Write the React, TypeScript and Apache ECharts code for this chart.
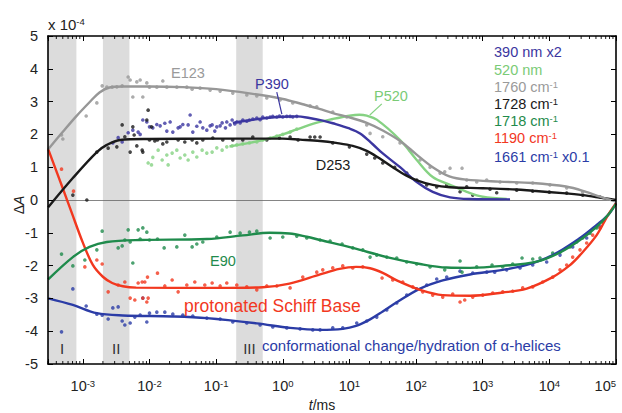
import React, { useEffect, useRef } from 'react';
import * as echarts from 'echarts';

// time axis range (ms)
const X_MIN = 3e-4;
const X_MAX = 1e5;
const Y_MIN = -5;
const Y_MAX = 5;
const xTickExponents = [-3, -2, -1, 0, 1, 2, 3, 4, 5];
const minorMultipliers = [2, 3, 4, 5, 6, 7, 8, 9];
const minorDecades = [-4, -3, -2, -1, 0, 1, 2, 3, 4];

// shaded time windows [start, end] in ms
const bandNames = ['I', 'II', 'III'];
const bandFrom = [3e-4, 2e-3, 0.2];
const bandTo = [8e-4, 5e-3, 0.5];

// All series: [log10(t/ms), ΔA / 1e-4]
const grayDots = [
  [-3.32, 1.98], [-3.3, 1.86], [-2.95, 2.56], [-2.79, 2.96], [-2.71, 3.48], [-2.64, 3.44], [-2.56, 3.44],
  [-2.49, 3.45], [-2.41, 3.48], [-2.32, 3.75], [-2.29, 3.66], [-2.25, 3.14], [-2.19, 3.6], [-2.14, 3.66],
  [-2.1, 3.14], [-2.04, 3.57], [-2.0, 3.44], [-1.89, 3.44], [-1.8, 3.63], [-1.74, 3.44], [-1.59, 3.44],
  [-1.44, 3.44], [-1.36, 3.38], [-1.24, 3.41], [-1.09, 3.35], [-0.94, 3.32], [-0.75, 3.26], [-0.54, 3.2],
  [-0.39, 3.17], [-0.24, 3.11], [-0.04, 3.05], [0.15, 2.96], [0.41, 2.87], [0.51, 2.84], [0.75, 2.68],
  [0.96, 2.53], [1.26, 2.29], [1.31, 2.03], [1.5, 1.93], [1.76, 1.74], [1.91, 1.52], [2.06, 1.22],
  [2.21, 1.0], [2.36, 0.82], [2.43, 0.86], [2.51, 0.97], [2.69, 0.97], [2.76, 0.61], [2.91, 0.55],
  [3.06, 0.61], [3.26, 0.55], [3.51, 0.52], [3.75, 0.52], [4.01, 0.46], [4.26, 0.37], [4.5, 0.24], [4.76, 0.09],
];
const grayLine = [
  [-3.52, 1.55], [-3.3, 2.08], [-3.1, 2.55], [-2.9, 2.98], [-2.75, 3.28], [-2.6, 3.43], [-2.4, 3.46], [-2.0, 3.46],
  [-1.5, 3.44], [-1.0, 3.38], [-0.5, 3.25], [0, 3.08], [0.3, 2.92], [0.55, 2.78], [0.75, 2.65], [1.0, 2.52],
  [1.26, 2.35], [1.5, 2.12], [1.76, 1.8], [2.0, 1.4], [2.25, 1.0], [2.5, 0.72], [2.75, 0.62], [3.25, 0.56],
  [3.75, 0.52], [4.25, 0.41], [4.55, 0.25], [4.76, 0.1], [5, -0.05],
];

const blackDots = [
  [-3.15, 0.15], [-2.94, 0.0], [-2.79, 1.46], [-2.62, 1.58], [-2.49, 1.62], [-2.41, 2.29], [-2.37, 1.93],
  [-2.29, 1.46], [-2.25, 2.23], [-2.23, 1.98], [-2.19, 1.65], [-2.11, 1.52], [-2.1, 1.46], [-2.04, 2.44],
  [-2.02, 2.74], [-2.0, 1.83], [-1.97, 2.23], [-1.92, 1.8], [-1.88, 1.83], [-1.8, 1.71], [-1.74, 1.77],
  [-1.57, 1.83], [-1.47, 1.77], [-1.36, 1.83], [-1.29, 1.74], [-1.2, 1.83], [-1.05, 1.89], [-0.9, 1.83],
  [-0.75, 1.83], [-0.6, 1.83], [-0.45, 1.92], [-0.24, 1.83], [-0.05, 1.89], [0.11, 1.92], [0.23, 1.83],
  [0.41, 1.92], [0.48, 1.92], [0.56, 1.92], [0.75, 1.74], [1.0, 1.62], [1.26, 1.4], [1.38, 1.28], [1.5, 1.13],
  [1.68, 1.0], [1.86, 0.82], [2.01, 0.61], [2.16, 0.46], [2.31, 0.4], [2.46, 0.46], [2.66, 0.25], [2.76, 0.4],
  [2.85, 0.15], [3.11, 0.33], [3.21, 0.22], [3.51, 0.3], [3.75, 0.27], [4.0, 0.24], [4.26, 0.21], [4.5, 0.15], [4.76, 0.09],
];
const blackLine = [
  [-3.52, -0.22], [-3.15, 0.67], [-2.79, 1.46], [-2.64, 1.68], [-2.44, 1.83], [-2.0, 1.86], [-1.0, 1.87],
  [0, 1.87], [0.26, 1.84], [0.56, 1.8], [0.8, 1.74], [1.05, 1.65], [1.26, 1.5], [1.45, 1.27], [1.65, 1.0],
  [1.85, 0.75], [2.01, 0.6], [2.25, 0.46], [2.51, 0.39], [3.0, 0.36], [3.5, 0.32], [3.75, 0.28], [4.2, 0.21],
  [4.5, 0.15], [4.8, 0.06], [5, 0],
];

const p390Dots = [
  [-2.55, 1.74], [-2.47, 1.9], [-2.41, 1.77], [-2.32, 2.05], [-2.25, 2.13], [-2.17, 2.07], [-2.14, 2.0],
  [-2.1, 2.44], [-2.04, 2.38], [-2.0, 2.23], [-1.95, 2.2], [-1.89, 2.3], [-1.84, 2.26], [-1.77, 2.34],
  [-1.74, 2.1], [-1.69, 2.38], [-1.65, 2.07], [-1.57, 2.2], [-1.54, 2.23], [-1.5, 2.3], [-1.42, 2.29],
  [-1.39, 2.59], [-1.35, 2.07], [-1.29, 2.25], [-1.24, 2.38], [-1.2, 2.2], [-1.14, 2.13], [-1.09, 2.26],
  [-1.06, 2.29], [-1.02, 2.1], [-0.99, 2.23], [-0.94, 2.26], [-0.91, 2.35], [-0.86, 2.2], [-0.84, 2.38],
  [-0.79, 2.29], [-0.76, 2.44], [-0.72, 2.32], [-0.69, 2.38], [-0.64, 2.35], [-0.6, 2.44], [-0.54, 2.4],
  [-0.5, 2.44], [-0.45, 2.47], [-0.39, 2.5], [-0.34, 2.45], [-0.3, 2.53], [-0.24, 2.5], [-0.19, 2.53],
  [-0.15, 2.55], [-0.09, 2.53], [-0.05, 2.56], [0.0, 2.53], [0.06, 2.55], [0.11, 2.55], [0.15, 2.53], [0.21, 2.55],
];
const p390Line = [
  [-0.75, 2.35], [-0.5, 2.43], [-0.25, 2.5], [0.0, 2.54], [0.21, 2.55], [0.4, 2.5], [0.6, 2.42], [0.75, 2.34],
  [1.0, 2.18], [1.16, 2.03], [1.35, 1.7], [1.5, 1.42], [1.76, 1.0], [2.01, 0.55], [2.25, 0.25], [2.51, 0.08],
  [2.8, 0.03], [3.41, 0.02],
];

const p520Dots = [
  [-2.02, 1.13], [-1.97, 1.07], [-1.95, 1.3], [-1.87, 1.52], [-1.81, 1.22], [-1.74, 1.37], [-1.72, 1.07],
  [-1.66, 1.43], [-1.59, 1.52], [-1.54, 1.28], [-1.47, 1.37], [-1.42, 1.22], [-1.35, 1.46], [-1.29, 1.31],
  [-1.21, 1.52], [-1.14, 1.43], [-1.06, 1.46], [-0.99, 1.59], [-0.91, 1.52], [-0.84, 1.62], [-0.76, 1.65],
  [-0.69, 1.68], [-0.6, 1.71], [-0.5, 1.74], [-0.39, 1.77], [-0.3, 1.83], [-0.19, 1.89], [-0.09, 1.95],
  [0.0, 2.0], [0.11, 2.07], [0.21, 2.16],
];
const p520Line = [
  [-0.8, 1.63], [-0.5, 1.74], [-0.2, 1.88], [0.0, 2.0], [0.21, 2.15], [0.5, 2.35], [0.75, 2.47], [1.0, 2.57],
  [1.15, 2.6], [1.26, 2.57], [1.41, 2.45], [1.76, 1.83], [2.01, 1.22], [2.25, 0.7], [2.51, 0.46], [2.76, 0.25],
  [3.0, 0.1], [3.36, 0.03],
];

const e90Dots = [
  [-3.32, -1.65], [-3.15, -2.01], [-2.97, -1.83], [-2.79, -1.52], [-2.71, -0.95], [-2.47, -1.46], [-2.41, -1.4],
  [-2.37, -1.22], [-2.32, -0.91], [-2.29, -1.28], [-2.25, -1.92], [-2.17, -0.91], [-2.14, -1.19], [-2.1, -0.85],
  [-2.04, -0.98], [-2.0, -1.22], [-1.88, -1.19], [-1.78, -1.46], [-1.59, -1.43], [-1.47, -1.07], [-1.36, -1.43],
  [-1.29, -1.34], [-1.2, -1.28], [-0.99, -1.13], [-0.79, -0.98], [-0.64, -1.01], [-0.5, -0.98], [-0.39, -0.95],
  [-0.19, -1.16], [0.0, -1.13], [0.21, -1.1], [0.36, -1.16], [0.56, -1.22], [0.71, -1.25], [0.89, -1.34],
  [1.05, -1.46], [1.2, -1.52], [1.31, -1.74], [1.41, -1.68], [1.56, -1.74], [1.71, -1.77], [1.86, -1.89],
  [2.01, -1.95], [2.21, -2.04], [2.43, -2.13], [2.66, -1.86], [2.69, -2.2], [2.91, -2.04], [3.14, -1.98],
  [3.3, -2.04], [3.45, -1.95], [3.59, -1.77], [3.75, -1.8], [3.86, -1.77], [4.05, -1.62], [4.16, -1.59],
  [4.31, -1.43], [4.41, -1.28], [4.5, -1.16], [4.61, -1.01], [4.71, -0.85], [4.8, -0.67],
];
const e90Line = [
  [-3.52, -2.42], [-3.15, -1.74], [-2.9, -1.43], [-2.64, -1.28], [-2.14, -1.22], [-1.14, -1.19], [-0.6, -1.08],
  [-0.2, -1.0], [0.1, -1.02], [0.36, -1.12], [0.56, -1.22], [1.05, -1.46], [1.56, -1.74], [2.06, -1.95],
  [2.46, -2.06], [2.81, -2.07], [3.3, -2.01], [3.81, -1.88], [4.16, -1.6], [4.46, -1.22], [4.71, -0.82],
  [4.88, -0.46], [5, -0.12],
];

const redDots = [
  [-3.32, 0.94], [-3.14, 0.27], [-2.97, -2.04], [-2.79, -1.83], [-2.71, -1.95], [-2.62, -2.8], [-2.47, -2.59],
  [-2.37, -2.5], [-2.29, -2.99], [-2.22, -3.05], [-2.17, -2.53], [-2.11, -2.5], [-2.1, -2.99], [-2.07, -2.5],
  [-2.04, -3.11], [-2.03, -2.35], [-2.02, -2.99], [-1.88, -2.23], [-1.77, -2.62], [-1.66, -2.44], [-1.57, -2.8],
  [-1.44, -2.59], [-1.32, -2.5], [-1.17, -2.59], [-1.06, -2.53], [-0.94, -2.62], [-0.84, -2.53], [-0.69, -2.59],
  [-0.54, -2.65], [-0.39, -2.74], [-0.24, -2.62], [-0.09, -2.62], [0.11, -2.68], [0.3, -2.35], [0.51, -2.2],
  [0.6, -2.13], [0.75, -2.07], [0.9, -2.01], [1.05, -2.07], [1.2, -2.04], [1.49, -2.38], [1.65, -2.44],
  [1.8, -2.5], [1.95, -2.65], [2.1, -2.8], [2.25, -2.9], [2.4, -2.96], [2.55, -2.87], [2.66, -3.11],
  [2.73, -3.05], [2.85, -2.96], [3.0, -2.9], [3.15, -2.84], [3.3, -2.8], [3.45, -2.78], [3.6, -2.68],
  [3.75, -2.65], [3.9, -2.5], [4.05, -2.35], [4.16, -2.13], [4.26, -1.98], [4.35, -1.74], [4.46, -1.52],
  [4.56, -1.31], [4.65, -1.07], [4.76, -0.85],
];
const redLine = [
  [-3.52, 1.55], [-3.3, 0.35], [-3.17, -0.37], [-3.0, -1.3], [-2.85, -1.98], [-2.7, -2.34], [-2.56, -2.53],
  [-2.4, -2.63], [-2.2, -2.67], [-1.0, -2.68], [-0.3, -2.66], [0.1, -2.55], [0.56, -2.27], [0.85, -2.1],
  [1.1, -2.04], [1.31, -2.08], [1.5, -2.22], [1.71, -2.45], [2.06, -2.74], [2.4, -2.9], [2.81, -2.92],
  [3.3, -2.82], [3.66, -2.7], [4.05, -2.35], [4.3, -2.0], [4.46, -1.68], [4.71, -1.07], [4.88, -0.46], [5, -0.1],
];

const amideDots = [
  [-3.32, -4.02], [-3.15, -2.71], [-2.95, -3.23], [-2.79, -3.48], [-2.71, -3.51], [-2.62, -3.63], [-2.55, -3.29],
  [-2.47, -3.26], [-2.41, -3.69], [-2.37, -3.81], [-2.29, -3.75], [-2.22, -3.57], [-2.14, -3.51], [-2.1, -2.99],
  [-2.04, -3.72], [-2.0, -3.45], [-1.89, -3.42], [-1.77, -3.42], [-1.65, -3.48], [-1.5, -3.51], [-1.35, -3.54],
  [-1.14, -3.6], [-0.94, -3.63], [-0.75, -3.72], [-0.54, -3.75], [-0.34, -3.81], [-0.15, -3.87], [0.06, -3.9],
  [0.26, -3.93], [0.45, -3.96], [0.56, -3.96], [0.75, -3.9], [0.9, -3.9], [1.11, -3.75], [1.26, -3.69],
  [1.41, -3.57], [1.56, -3.35], [1.71, -3.14], [1.86, -2.9], [2.01, -2.71], [2.16, -2.59], [2.31, -2.41],
  [2.46, -2.35], [2.66, -2.17], [2.85, -2.23], [3.06, -2.2], [3.18, -2.2], [3.36, -2.13], [3.56, -2.07],
  [3.75, -1.98], [3.96, -1.89], [4.16, -1.68], [4.35, -1.43], [4.56, -1.16], [4.76, -0.82],
];
const amideLine = [
  [-3.52, -3.0], [-3.15, -3.2], [-2.79, -3.45], [-2.4, -3.52], [-1.65, -3.55], [-1.14, -3.6], [-0.39, -3.76],
  [0.11, -3.9], [0.56, -3.96], [0.9, -3.93], [1.1, -3.84], [1.31, -3.64], [1.5, -3.4], [1.71, -3.12],
  [2.06, -2.7], [2.4, -2.45], [2.81, -2.27], [3.3, -2.13], [3.66, -1.98], [4.05, -1.68], [4.46, -1.16],
  [4.71, -0.76], [4.88, -0.46], [5, -0.1],
];

// leader lines for the P390 / P520 labels: [log10 t, ΔA]
const p390Leader = [[-0.09, 3.29], [-0.014, 2.62]];
const p520Leader = [[1.486, 2.93], [1.306, 2.59]];

const legendItems = [
  { text: '390 nm x2', color: '#3b36a0' },
  { text: '520 nm', color: '#7acb76' },
  { text: '1760 cm{sup|-1}', color: '#9a9a9a' },
  { text: '1728 cm{sup|-1}', color: '#1a1a1a' },
  { text: '1718 cm{sup|-1}', color: '#1f8b4c' },
  { text: '1190 cm{sup|-1}', color: '#f2381f' },
  { text: '1661 cm{sup|-1} x0.1', color: '#2b3ca6' },
];
const legendY = [52, 69.5, 87, 104, 121, 138, 157];

const C = {
  gray: '#979797',
  black: '#1a1a1a',
  p390: '#3b36a0',
  p520: '#86d283',
  e90: '#1f8b4c',
  red: '#f2381f',
  amide: '#2b3ca6',
};

const FONT = '"Liberation Sans", Arial, Helvetica, sans-serif';

const toPts = (arr: number[][]) => arr.map(([l, v]) => [Math.pow(10, l), v]);

export default function App() {
  const ref = useRef<HTMLDivElement>(null);
  useEffect(() => {
    document.body.style.margin = '0';
    if (!ref.current) return;
    const chart = echarts.init(ref.current, null, { renderer: 'svg' });

    const minorTicks: number[][] = [];
    minorDecades.forEach((d) =>
      minorMultipliers.forEach((m) => {
        const v = m * Math.pow(10, d);
        if (v > X_MIN && v < X_MAX) minorTicks.push([v, 0]);
      })
    );

    const sup = { fontSize: 9.5, verticalAlign: 'top', padding: [0, 0, 5, 0], fontFamily: FONT };

    const dotSeries = (name: string, data: number[][], color: string) => ({
      name,
      type: 'scatter',
      data: toPts(data),
      symbol: 'circle',
      symbolSize: 3.6,
      itemStyle: { color },
      silent: true,
      z: 3,
    });
    const lineSeries = (name: string, data: number[][], color: string, extra: any = {}) => ({
      name,
      type: 'line',
      data: toPts(data),
      showSymbol: false,
      symbol: 'none',
      smooth: 0.35,
      lineStyle: { color, width: 2.4 },
      itemStyle: { color },
      silent: true,
      z: 4,
      ...extra,
    });

    const leader = (pts: number[][], color: string) => ({
      symbol: 'none',
      silent: true,
      animation: false,
      z: 5,
      label: { show: false },
      lineStyle: { color, width: 1.2, type: 'solid' },
      data: [[{ coord: [Math.pow(10, pts[0][0]), pts[0][1]] }, { coord: [Math.pow(10, pts[1][0]), pts[1][1]] }]],
    });

    const xLabelFmt = (v: number) => {
      const e = Math.log10(v);
      const r = Math.round(e);
      if (Math.abs(e - r) > 1e-6 || !xTickExponents.includes(r)) return '';
      return `10{sup|${r}}`;
    };

    const texts: any[] = [
      { type: 'text', z: 50, x: 48, y: 24, style: { text: 'x 10{sup|-4}', fontSize: 15, fontFamily: FONT, fill: '#222', verticalAlign: 'middle', rich: { sup } } },
      { type: 'text', z: 50, x: 19, y: 205, rotation: Math.PI / 2, style: { text: 'Δ{i|A}', fontSize: 14, fontFamily: FONT, fill: '#222', align: 'center', verticalAlign: 'middle', rich: { i: { fontStyle: 'italic', fontSize: 14, fontFamily: FONT } } } },
      { type: 'text', z: 50, x: 322, y: 405, style: { text: '{i|t}/ms', fontSize: 14, fontFamily: FONT, fill: '#222', align: 'center', verticalAlign: 'middle', rich: { i: { fontStyle: 'italic', fontSize: 14, fontFamily: FONT } } } },
      { type: 'text', z: 50, x: 188, y: 73, style: { text: 'E123', fontSize: 14.5, fontFamily: FONT, fill: '#9a9a9a', align: 'center', verticalAlign: 'middle' } },
      { type: 'text', z: 50, x: 272, y: 84, style: { text: 'P390', fontSize: 14.5, fontFamily: FONT, fill: C.p390, align: 'center', verticalAlign: 'middle' } },
      { type: 'text', z: 50, x: 391, y: 96, style: { text: 'P520', fontSize: 14.5, fontFamily: FONT, fill: '#7acb76', align: 'center', verticalAlign: 'middle' } },
      { type: 'text', z: 50, x: 333, y: 165, style: { text: 'D253', fontSize: 14.5, fontFamily: FONT, fill: '#1a1a1a', align: 'center', verticalAlign: 'middle' } },
      { type: 'text', z: 50, x: 223, y: 261, style: { text: 'E90', fontSize: 14.5, fontFamily: FONT, fill: C.e90, align: 'center', verticalAlign: 'middle' } },
      { type: 'text', z: 50, x: 184, y: 306, style: { text: 'protonated Schiff Base', fontSize: 17.5, fontFamily: FONT, fill: C.red, align: 'left', verticalAlign: 'middle' } },
      { type: 'text', z: 50, x: 262, y: 345, style: { text: 'conformational change/hydration of α-helices', fontSize: 15, fontFamily: FONT, fill: C.amide, align: 'left', verticalAlign: 'middle' } },
    ];
    legendItems.forEach((it, i) => {
      texts.push({
        type: 'text',
        z: 50,
        x: 494,
        y: legendY[i],
        style: { text: it.text, fontSize: 14.5, fontFamily: FONT, fill: it.color, align: 'left', verticalAlign: 'middle', rich: { sup: { ...sup, fill: it.color } } },
      });
    });

    const axisCommon = {
      type: 'log',
      logBase: 10,
      min: X_MIN,
      max: X_MAX,
      z: 20,
      splitLine: { show: false },
      minorTick: { show: false },
      axisLine: { show: true, onZero: false, lineStyle: { color: '#000', width: 1.6 } },
      axisTick: { show: true, inside: true, length: 5, lineStyle: { color: '#000', width: 1 } },
    };
    const yCommon = {
      type: 'value',
      min: Y_MIN,
      max: Y_MAX,
      interval: 1,
      z: 20,
      splitLine: { show: false },
      axisLine: { show: true, lineStyle: { color: '#000', width: 1.6 } },
      axisTick: { show: true, inside: true, length: 5, lineStyle: { color: '#000', width: 1 } },
    };

    const option: any = {
      animation: false,
      grid: { left: 48, right: 6, top: 36, bottom: 49, containLabel: false, outerBoundsMode: 'none' },
      xAxis: [
        {
          ...axisCommon,
          position: 'bottom',
          axisLabel: {
            show: true,
            formatter: xLabelFmt,
            fontSize: 14.5,
            fontFamily: FONT,
            color: '#222',
            margin: 14,
            showMinLabel: true,
            showMaxLabel: true,
            alignMaxLabel: 'right',
            hideOverlap: false,
            rich: { sup },
          },
        },
        { ...axisCommon, position: 'top', axisLabel: { show: false } },
      ],
      yAxis: [
        {
          ...yCommon,
          position: 'left',
          axisLabel: { show: true, fontSize: 14.5, fontFamily: FONT, color: '#222', margin: 10, formatter: (v: number) => String(v) },
        },
        { ...yCommon, position: 'right', axisLabel: { show: false } },
      ],
      graphic: { elements: texts },
      series: [
        {
          name: 'bands',
          type: 'custom',
          data: bandNames.map((n, i) => [bandFrom[i], bandTo[i], i]),
          encode: { x: [0, 1] },
          silent: true,
          z: 0,
          renderItem: (params: any, api: any) => {
            const a = api.coord([api.value(0), Y_MAX]);
            const b = api.coord([api.value(1), Y_MIN]);
            const name = bandNames[api.value(2)];
            return {
              type: 'group',
              children: [
                { type: 'rect', shape: { x: a[0], y: a[1], width: b[0] - a[0], height: b[1] - a[1] }, style: { fill: '#dcdcdc' } },
                {
                  type: 'text',
                  x: (a[0] + b[0]) / 2,
                  y: b[1] - 16,
                  style: { text: name, fill: '#333', fontSize: 15, fontFamily: FONT, align: 'center', verticalAlign: 'middle' },
                },
              ],
            };
          },
        },
        {
          name: 'zero',
          type: 'line',
          data: [],
          z: 1,
          silent: true,
          markLine: {
            symbol: 'none',
            silent: true,
            z: 1,
            label: { show: false },
            lineStyle: { color: '#666', width: 0.8, type: 'solid' },
            data: [{ yAxis: 0 }],
          },
        },
        {
          name: 'minorTicks',
          type: 'custom',
          data: minorTicks,
          encode: { x: 0, y: 1 },
          silent: true,
          clip: false,
          z: 20,
          renderItem: (params: any, api: any) => {
            const x = api.value(0);
            const b = api.coord([x, Y_MIN]);
            const t = api.coord([x, Y_MAX]);
            return {
              type: 'group',
              children: [
                { type: 'line', shape: { x1: b[0], y1: b[1], x2: b[0], y2: b[1] - 3 }, style: { stroke: '#000', lineWidth: 0.9 } },
                { type: 'line', shape: { x1: t[0], y1: t[1], x2: t[0], y2: t[1] + 3 }, style: { stroke: '#000', lineWidth: 0.9 } },
              ],
            };
          },
        },
        dotSeries('1661 dots', amideDots, C.amide),
        dotSeries('1190 dots', redDots, C.red),
        dotSeries('1718 dots', e90Dots, C.e90),
        dotSeries('520 dots', p520Dots, C.p520),
        dotSeries('390 dots', p390Dots, C.p390),
        dotSeries('1728 dots', blackDots, C.black),
        dotSeries('1760 dots', grayDots, C.gray),
        lineSeries('1661 cm-1 x0.1', amideLine, C.amide),
        lineSeries('1190 cm-1', redLine, C.red),
        lineSeries('1718 cm-1', e90Line, C.e90),
        lineSeries('520 nm', p520Line, C.p520, { markLine: leader(p520Leader, C.p520) }),
        lineSeries('390 nm x2', p390Line, C.p390, { markLine: leader(p390Leader, C.p390) }),
        lineSeries('1728 cm-1', blackLine, C.black),
        lineSeries('1760 cm-1', grayLine, C.gray),
      ],
    };
    chart.setOption(option);
    return () => chart.dispose();
  }, []);
  return <div ref={ref} style={{ width: 622, height: 413 }} />;
}
